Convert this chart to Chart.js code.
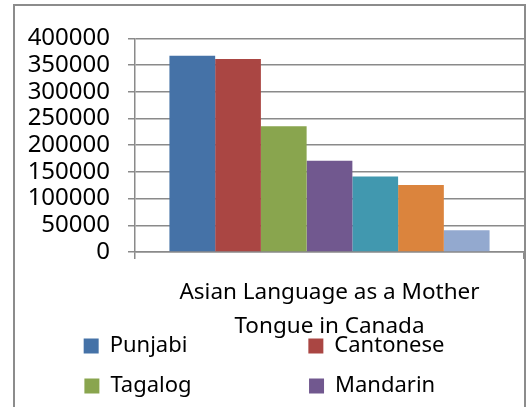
<!DOCTYPE html>
<html>
<head>
<meta charset="utf-8">
<script src="https://cdn.jsdelivr.net/npm/chart.js@4.4.1/dist/chart.umd.min.js"></script>
<style>
    body { margin: 0; background: #ffffff; overflow: hidden; }
    #caixa {
        position: absolute; left: 13px; top: 4px;
        width: 509px; height: 481px;
        border: 2px solid #8c8c8c;
        background: #ffffff;
    }
</style>
</head>
<body>
<div id="caixa"><canvas id="linguas_asiaticas"></canvas></div>
<script>
/* ---------------------------------------------
# DADOS
--------------------------------------------- */
const linguas = ['Punjabi', 'Cantonese', 'Tagalog', 'Mandarin', 'Vietnamese', 'Korean', 'Hindi'];
const falantes = [367505, 361450, 235615, 170950, 141630, 125570, 41000];
const cores = ['#4572A7', '#AA4643', '#89A54E', '#71588F', '#4198AF', '#DB843D', '#93A9CF'];
const titulo = ['Asian Language as a Mother', 'Tongue in Canada'];
const eixo_y_max = 400000;
const eixo_y_passo = 50000;

const fonte = '"Noto Sans", "Open Sans", sans-serif';
const cinza = '#8a8a8a';

function monta_datasets() {
    var datasets = [];
    for (let i = 0; i < linguas.length; i++) {
        datasets.push({
            label: linguas[i],
            data: [falantes[i]],
            backgroundColor: cores[i],
            borderWidth: 0,
            categoryPercentage: 0.823,
            barPercentage: 1.0
        });
    }
    return datasets;
}

// completa o texto com espacos ate a largura pedida
function completa(ctx, txt, largura) {
    while (ctx.measureText(txt + ' ').width <= largura) {
        txt += ' ';
    }
    while (ctx.measureText(txt + '\u200A').width <= largura) {
        txt += '\u200A';
    }
    return txt;
}

// legenda em duas colunas, como no Excel
function gera_legenda(chart) {
    const itens = Chart.defaults.plugins.legend.labels.generateLabels(chart);
    const ctx = chart.ctx;
    ctx.save();
    ctx.font = '22px ' + fonte;
    itens.forEach(function (item, i) {
        item.lineWidth = 0;
        item.text = completa(ctx, item.text, i % 2 === 0 ? 181 : 172);
    });
    ctx.restore();
    return itens;
}

function renderiza_grafico() {
    const ctx = document.getElementById('linguas_asiaticas').getContext('2d');
    const myChart = new Chart(ctx, {
        type: 'bar',
        data: {
            labels: [''],
            datasets: monta_datasets()
        },
        options: {
            responsive: true,
            maintainAspectRatio: false,
            animation: false,
            layout: {
                padding: { top: 31, left: 12, right: 0, bottom: 0 }
            },
            scales: {
                x: {
                    grid: {
                        drawOnChartArea: false,
                        drawTicks: true,
                        tickLength: 7,
                        color: cinza,
                        lineWidth: 1.5
                    },
                    border: { display: true, color: cinza, width: 1.5 },
                    ticks: { display: false }
                },
                y: {
                    min: 0,
                    max: eixo_y_max,
                    afterFit: function (scale) { scale.width = 108; },
                    grid: {
                        color: cinza,
                        lineWidth: 1.5,
                        tickLength: 7
                    },
                    border: { display: true, color: cinza, width: 1.5 },
                    ticks: {
                        stepSize: eixo_y_passo,
                        autoSkip: false,
                        padding: 18,
                        color: '#000000',
                        font: { family: fonte, size: 24 },
                        callback: function (v) { return String(v); }
                    }
                }
            },
            plugins: {
                tooltip: { enabled: false },
                title: {
                    display: true,
                    text: titulo,
                    position: 'bottom',
                    fullSize: false,
                    weight: 500,
                    color: '#000000',
                    font: { family: fonte, size: 22.5, weight: 'normal', lineHeight: 1.51 },
                    padding: { top: 17, bottom: -27 }
                },
                legend: {
                    display: true,
                    position: 'bottom',
                    align: 'end',
                    labels: {
                        boxWidth: 15,
                        boxHeight: 15,
                        padding: 18,
                        color: '#000000',
                        font: { family: fonte, size: 22 },
                        generateLabels: gera_legenda
                    }
                }
            }
        }
    });
}

renderiza_grafico();
</script>
</body>
</html>
